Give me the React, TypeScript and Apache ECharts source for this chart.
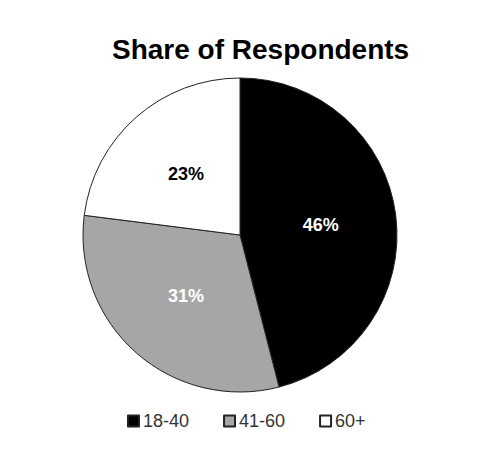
import React, { useEffect, useRef } from 'react';
import * as echarts from 'echarts';

const categories = ['18-40', '41-60', '60+'];
const shares = [46, 31, 23];
const sliceColors = ['#000000', '#a6a6a6', '#ffffff'];
const labelColors = ['#ffffff', '#ffffff', '#000000'];

const FONT = 'Liberation Sans, Arial, Helvetica, sans-serif';

const App: React.FC = () => {
  const chartRef = useRef<HTMLDivElement>(null);

  useEffect(() => {
    document.body.style.margin = '0';
    if (!chartRef.current) return;
    const chart = echarts.init(chartRef.current, undefined, { renderer: 'svg' });

    chart.setOption({
      animation: false,
      backgroundColor: '#ffffff',
      title: {
        text: 'Share of Respondents',
        left: 107,
        top: 30,
        textStyle: {
          fontFamily: FONT,
          fontSize: 28,
          fontWeight: 'bold',
          color: '#000000',
        },
      },
      legend: {
        bottom: 29,
        left: 122,
        itemWidth: 11,
        itemHeight: 11,
        itemGap: 34,
        icon: 'rect',
        selectedMode: false,
        textStyle: {
          fontFamily: FONT,
          fontSize: 18,
          color: '#333333',
          padding: [0, 0, 0, -1],
        },
        data: categories,
      },
      series: [
        {
          type: 'pie',
          center: [240, 235],
          radius: 157,
          startAngle: 90,
          clockwise: true,
          silent: true,
          itemStyle: { borderColor: '#222222', borderWidth: 1 },
          label: {
            position: 'inner',
            formatter: '{c}%',
            fontFamily: FONT,
            fontSize: 18,
            fontWeight: 'bold',
          },
          labelLine: { show: false },
          data: categories.map((name, i) => ({
            name,
            value: shares[i],
            itemStyle: { color: sliceColors[i] },
            label: { color: labelColors[i] },
          })),
        },
      ],
    });

    return () => chart.dispose();
  }, []);

  return <div ref={chartRef} style={{ width: 480, height: 464 }} />;
};

export default App;
